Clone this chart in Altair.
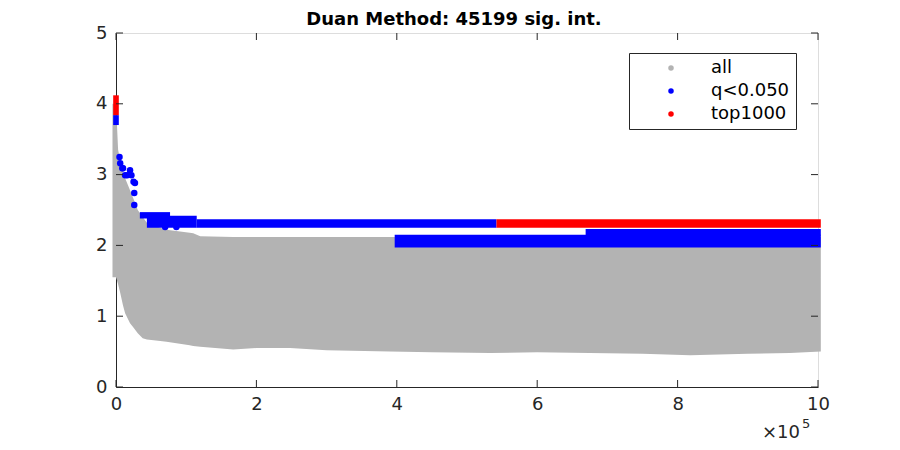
import altair as alt
import pandas as pd

# ---- values (x in units of 1e5) ----
# envelope of the grey "all" cloud
all_x  = [-0.05, 0.00, 0.03, 0.06, 0.10, 0.13, 0.20, 0.24, 0.31, 0.38, 0.44, 0.63, 0.72, 1.05, 1.10, 1.20,
          1.67, 2.00, 2.48, 3.00, 3.90, 4.50, 5.33, 6.00, 6.75, 7.50, 8.18, 9.00, 9.60, 10.04]
all_lo = [1.55, 1.55, 1.45, 1.33, 1.15, 1.04, 0.90, 0.85, 0.76, 0.69, 0.67, 0.65, 0.64, 0.59, 0.58, 0.57,
          0.53, 0.55, 0.55, 0.52, 0.50, 0.49, 0.48, 0.49, 0.48, 0.47, 0.45, 0.47, 0.48, 0.50]
all_hi = [4.00, 4.00, 3.35, 3.20, 3.02, 2.95, 2.78, 2.68, 2.50, 2.40, 2.32, 2.25, 2.22, 2.18, 2.17, 2.13,
          2.12, 2.12, 2.12, 2.12, 2.12, 2.12, 2.12, 2.12, 2.12, 2.12, 2.12, 2.12, 2.12, 2.12]

# dense runs of points drawn as bands: x from, x to, y from, y to, group
band_x1 = [-0.04, 0.34, 0.44, 1.15, 3.97, 6.69, 5.42, -0.04]
band_x2 = [0.04, 0.77, 1.15, 5.42, 10.04, 10.04, 10.04, 0.04]
band_y1 = [3.70, 2.38, 2.25, 2.25, 1.97, 2.14, 2.25, 3.84]
band_y2 = [3.84, 2.47, 2.42, 2.37, 2.15, 2.23, 2.37, 4.12]
band_grp = ["q<0.050", "q<0.050", "q<0.050", "q<0.050", "q<0.050", "q<0.050", "top1000", "top1000"]

# isolated significant points in the early part
q_x = [0.05, 0.06, 0.10, 0.20, 0.13, 0.22, 0.25, 0.27, 0.26, 0.26, 0.70, 0.86, 0.16, 0.09]
q_y = [3.25, 3.16, 3.09, 3.06, 2.99, 2.99, 2.90, 2.88, 2.74, 2.57, 2.26, 2.26, 2.99, 3.09]

groups = ["all", "q<0.050", "top1000"]
colors = ["#b3b3b3", "#0000ff", "#ff0000"]

x_ticks = [0, 2, 4, 6, 8, 10]
y_ticks = [0, 1, 2, 3, 4, 5]
exp_text = ["\u00d710", "5"]
title_text = ["Duan Method: 45199 sig. int."]

W, H = 702, 354
AX = "#262626"
FONT = "DejaVu Sans"

df_all = pd.DataFrame({"x": all_x, "lo": all_lo, "hi": all_hi, "group": "all"})
df_band = pd.DataFrame({"x1": band_x1, "x2": band_x2, "y1": band_y1, "y2": band_y2, "group": band_grp})
df_q = pd.DataFrame({"x": q_x, "y": q_y, "group": "q<0.050"})
df_xt = pd.DataFrame({"t": x_ticks})
df_yt = pd.DataFrame({"t": y_ticks})

xs = alt.Scale(domain=[0, 10], nice=False, zero=False)
ys = alt.Scale(domain=[0, 5], nice=False, zero=False)
cs = alt.Scale(domain=groups, range=colors)

x_axis = alt.Axis(values=x_ticks, ticks=False, grid=False, title=None, labelFontSize=18,
                  labelFont=FONT, labelColor=AX, labelPadding=8, domainColor=AX, format="d",
                  labelFlush=False)
y_axis = alt.Axis(values=y_ticks, ticks=False, grid=False, title=None, labelFontSize=18,
                  labelFont=FONT, labelColor=AX, labelPadding=9, domainColor=AX, format="d",
                  labelFlush=False)

legend = alt.Legend(title=None, orient="none", legendX=513, legendY=20, symbolType="circle",
                    symbolSize=30, symbolStrokeWidth=0, symbolOpacity=1, labelFontSize=18,
                    labelFont=FONT, labelColor="#000000", strokeColor=AX, fillColor="white",
                    padding=6, rowPadding=5, symbolOffset=27, labelOffset=31)

area = alt.Chart(df_all).mark_area(opacity=1).encode(
    x=alt.X("x:Q", scale=xs, axis=x_axis),
    y=alt.Y("lo:Q", scale=ys, axis=y_axis),
    y2="hi:Q",
    color=alt.Color("group:N", scale=cs, legend=legend),
)

bands = alt.Chart(df_band).mark_rect(opacity=1).encode(
    x=alt.X("x1:Q", scale=xs), x2="x2:Q",
    y=alt.Y("y1:Q", scale=ys), y2="y2:Q",
    color=alt.Color("group:N", scale=cs),
)

pts = alt.Chart(df_q).mark_circle(size=42, opacity=1).encode(
    x=alt.X("x:Q", scale=xs), y=alt.Y("y:Q", scale=ys),
    color=alt.Color("group:N", scale=cs),
)

tk = dict(color=AX, strokeWidth=1)
xt_bot = alt.Chart(df_xt).mark_rule(**tk).encode(x=alt.X("t:Q", scale=xs), y=alt.value(H), y2=alt.value(H - 7))
xt_top = alt.Chart(df_xt).mark_rule(**tk).encode(x=alt.X("t:Q", scale=xs), y=alt.value(0), y2=alt.value(7))
yt_l = alt.Chart(df_yt).mark_rule(**tk).encode(y=alt.Y("t:Q", scale=ys), x=alt.value(0), x2=alt.value(7))
yt_r = alt.Chart(df_yt).mark_rule(**tk).encode(y=alt.Y("t:Q", scale=ys), x=alt.value(W), x2=alt.value(W - 7))

exp1 = alt.Chart(pd.DataFrame({"s": [exp_text[0]]})).mark_text(
    align="left", baseline="alphabetic", fontSize=18, font=FONT, color=AX
).encode(x=alt.value(646), y=alt.value(405), text="s:N")
exp2 = alt.Chart(pd.DataFrame({"s": [exp_text[1]]})).mark_text(
    align="left", baseline="alphabetic", fontSize=13, font=FONT, color=AX
).encode(x=alt.value(686), y=alt.value(395), text="s:N")

title = alt.Chart(pd.DataFrame({"s": title_text})).mark_text(
    align="center", baseline="alphabetic", fontSize=18, fontWeight="bold", font=FONT, color="#000000"
).encode(x=alt.value(338), y=alt.value(-8), text="s:N")

chart = alt.layer(area, bands, pts, xt_bot, xt_top, yt_l, yt_r, exp1, exp2, title).properties(
    width=W, height=H,
    autosize=alt.AutoSizeParams(type="none"),
    padding={"left": 108, "top": 25, "right": 70, "bottom": 55},
).configure_view(stroke=AX, strokeWidth=1).configure(font=FONT)

chart.save("out.html", embed_options={"renderer": "svg", "actions": False})
